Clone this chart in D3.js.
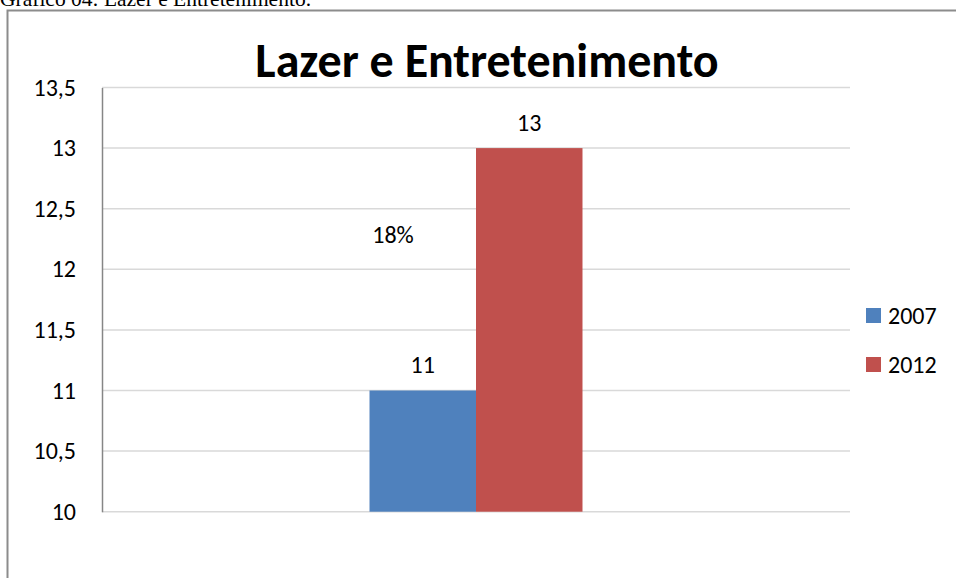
<!DOCTYPE html>
<html>
<head>
<meta charset="utf-8">
<script src="https://cdn.jsdelivr.net/npm/d3@7"></script>
<style>
  body { margin: 0; background: #fff; }
  svg { display: block; }
  text { font-family: Carlito, Lato, "Open Sans", sans-serif; fill: #000; }
</style>
</head>
<body>
<svg id="chart" width="956" height="578"></svg>
<script>
// data
var categories = ["Lazer e Entretenimento"];
var series = ["2007", "2012"];
var values2007 = [11];
var values2012 = [13];
var colors = ["#4f81bd", "#c0504d"];
var yTicks = [10, 10.5, 11, 11.5, 12, 12.5, 13, 13.5];
var changeLabel = "18%";

var svg = d3.select('#chart');

// caption above the chart box, cut off by the page edge
svg.append('text')
  .attr('x', 0)
  .attr('y', 6)
  .style('font-family', '"Liberation Serif", "Times New Roman", serif')
  .style('font-size', '21.5px')
  .text('Gráfico 04: Lazer e Entretenimento.');

// chart box
svg.append('rect')
  .attr('x', 7.5)
  .attr('y', 10.5)
  .attr('width', 1000)
  .attr('height', 1000)
  .attr('fill', 'none')
  .attr('stroke', '#8c8c8c')
  .attr('stroke-width', 2);

var plot = {left: 102, right: 850, top: 87.5, bottom: 511.7};

var xScale = d3.scaleBand()
  .domain(categories)
  .range([plot.left, plot.right])
  .paddingInner(0)
  .paddingOuter(1.256);

var xSub = d3.scaleBand()
  .domain(series)
  .range([0, xScale.bandwidth()]);

var yScale = d3.scaleLinear()
  .domain([10, 13.5])
  .range([plot.bottom, plot.top]);

// gridlines
svg.append('g')
  .selectAll('line')
  .data(yTicks)
  .enter().append('line')
    .attr('x1', plot.left)
    .attr('x2', plot.right)
    .attr('y1', function(d) { return yScale(d); })
    .attr('y2', function(d) { return yScale(d); })
    .attr('stroke', '#d9d9d9')
    .attr('stroke-width', 1.5);

// y axis
var yAxis = d3.axisLeft(yScale)
  .tickValues(yTicks)
  .tickSize(0)
  .tickPadding(26)
  .tickFormat(function(d) { return String(d).replace('.', ','); });

var yAxisEle = svg.append('g')
  .attr('transform', 'translate(' + plot.left + ',0)')
  .call(yAxis);
yAxisEle.select('.domain')
  .attr('stroke', '#868686')
  .attr('stroke-width', 1.5);
yAxisEle.selectAll('text')
  .style('font-family', 'Carlito, Lato, "Open Sans", sans-serif')
  .style('font-size', '24px')
  .attr('fill', '#000');

// bars
var rows = categories.map(function(c, i) {
  return [
    {cat: c, series: series[0], value: values2007[i]},
    {cat: c, series: series[1], value: values2012[i]}
  ];
});
var flat = [].concat.apply([], rows);

svg.append('g')
  .selectAll('rect.bar')
  .data(flat)
  .enter().append('rect')
    .classed('bar', true)
    .attr('x', function(d) { return xScale(d.cat) + xSub(d.series); })
    .attr('width', xSub.bandwidth())
    .attr('y', function(d) { return yScale(d.value); })
    .attr('height', function(d) { return plot.bottom - yScale(d.value); })
    .attr('fill', function(d) { return colors[series.indexOf(d.series)]; });

// value labels
svg.append('g')
  .selectAll('text')
  .data(flat)
  .enter().append('text')
    .attr('x', function(d) { return xScale(d.cat) + xSub(d.series) + xSub.bandwidth() / 2; })
    .attr('y', function(d) { return yScale(d.value) - 17.5; })
    .attr('text-anchor', 'middle')
    .style('font-size', '24px')
    .text(function(d) { return d.value; });

// growth annotation
svg.append('text')
  .attr('x', 393)
  .attr('y', 243)
  .attr('text-anchor', 'middle')
  .style('font-size', '24px')
  .text(changeLabel);

// title
svg.append('text')
  .attr('x', 487)
  .attr('y', 77)
  .attr('text-anchor', 'middle')
  .style('font-size', '48px')
  .style('font-weight', 'bold')
  .text(categories[0]);

// legend
var legend = svg.append('g')
  .selectAll('g')
  .data(series)
  .enter().append('g')
    .attr('transform', function(d, i) { return 'translate(866,' + (308 + i * 49) + ')'; });
legend.append('rect')
  .attr('width', 15)
  .attr('height', 15)
  .attr('fill', function(d, i) { return colors[i]; });
legend.append('text')
  .attr('x', 22)
  .attr('y', 15.5)
  .style('font-size', '24px')
  .text(function(d) { return d; });
</script>
</body>
</html>
